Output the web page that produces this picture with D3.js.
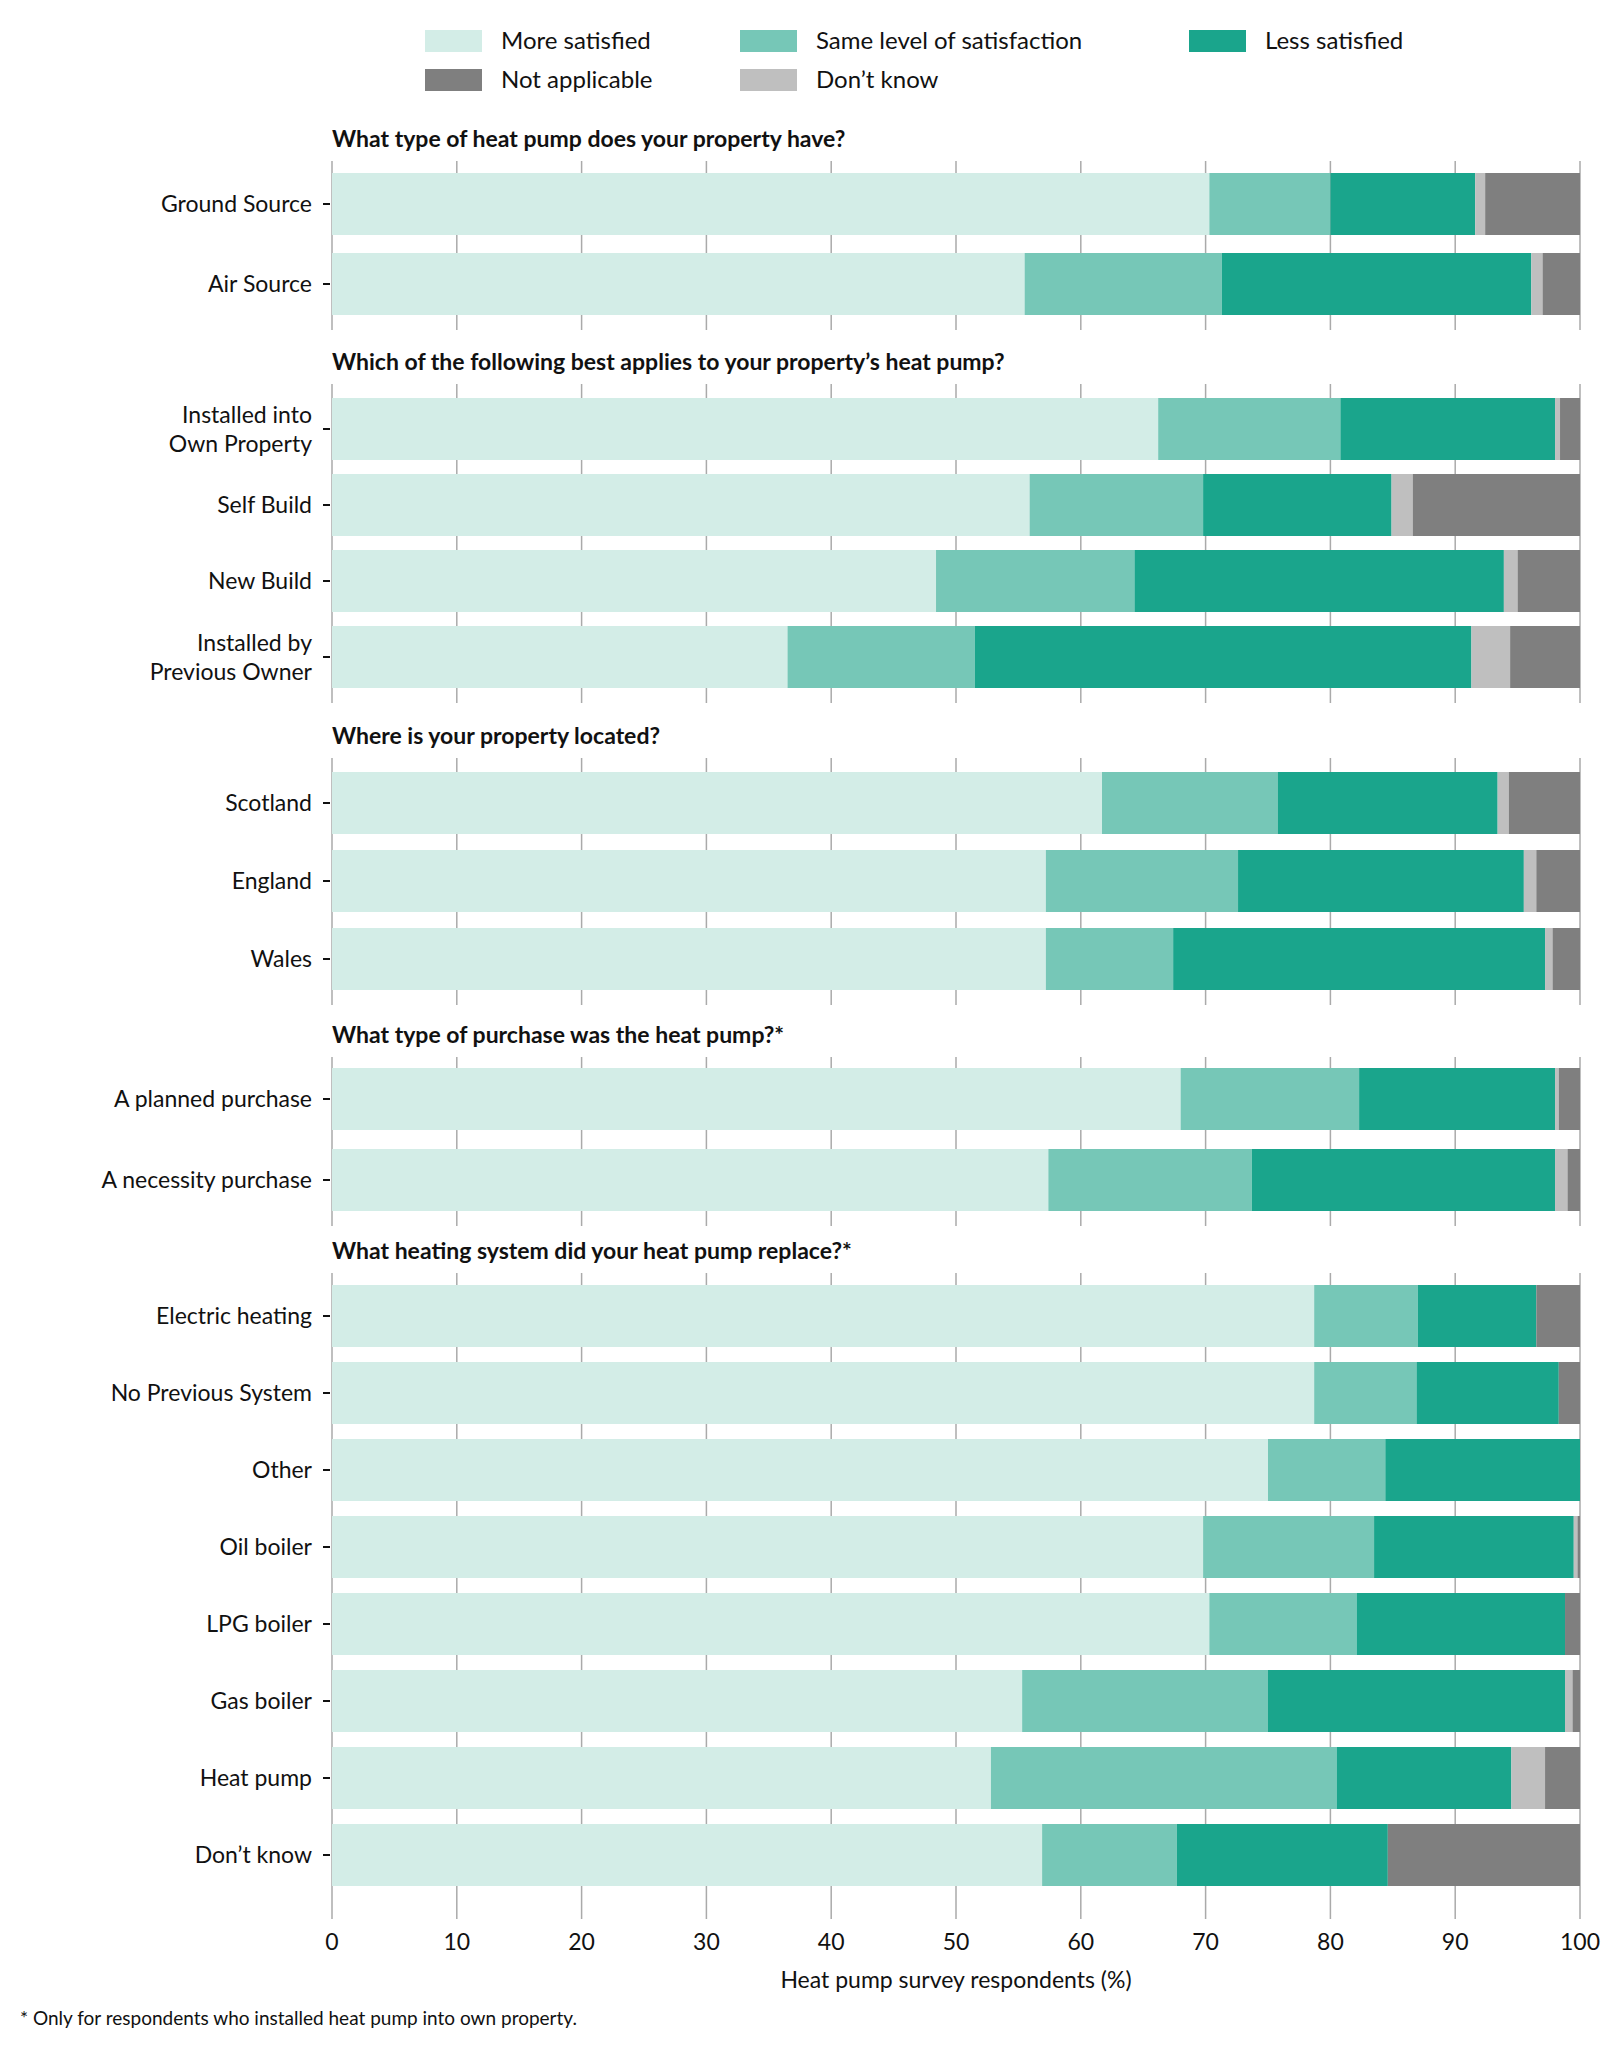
<!DOCTYPE html>
<html>
<head>
<meta charset="utf-8">
<script src="https://d3js.org/d3.v7.min.js"></script>
<style>
  body { margin: 0; background: #fff; }
  text { font-family: Lato, "Open Sans", sans-serif; fill: #111; }
</style>
</head>
<body>
<script>
// series names + colours, in stacking order
var seriesNames = ["More satisfied", "Same level of satisfaction", "Less satisfied", "Don\u2019t know", "Not applicable"];
var seriesColors = ["#d3ede7", "#76c7b7", "#1aa58c", "#bfbfbf", "#7f7f7f"];

// question titles and their categories
var titles = [
  "What type of heat pump does your property have?",
  "Which of the following best applies to your property\u2019s heat pump?",
  "Where is your property located?",
  "What type of purchase was the heat pump?*",
  "What heating system did your heat pump replace?*"
];
var categories = [
  ["Ground Source", "Air Source"],
  ["Installed into\nOwn Property", "Self Build", "New Build", "Installed by\nPrevious Owner"],
  ["Scotland", "England", "Wales"],
  ["A planned purchase", "A necessity purchase"],
  ["Electric heating", "No Previous System", "Other", "Oil boiler", "LPG boiler", "Gas boiler", "Heat pump", "Don\u2019t know"]
];

// values per series (%), same order as the flattened categories
var moreSatisfied = [70.3, 55.5, 66.2, 55.9, 48.4, 36.5, 61.7, 57.2, 57.2, 68.0, 57.4, 78.7, 78.7, 75.0, 69.8, 70.3, 55.3, 52.8, 56.9];
var sameLevel     = [9.7, 15.8, 14.6, 13.9, 15.9, 15.0, 14.1, 15.4, 10.2, 14.3, 16.3, 8.3, 8.2, 9.4, 13.7, 11.8, 19.7, 27.7, 10.8];
var lessSatisfied = [11.6, 24.8, 17.2, 15.1, 29.6, 39.8, 17.6, 22.9, 29.8, 15.7, 24.3, 9.5, 11.4, 15.6, 16.0, 16.7, 23.8, 14.0, 16.9];
var dontKnow      = [0.8, 0.9, 0.4, 1.7, 1.1, 3.1, 0.9, 1.0, 0.6, 0.3, 1.0, 0, 0, 0, 0.3, 0, 0.6, 2.7, 0];
var notApplicable = [7.6, 3.0, 1.6, 13.4, 5.0, 5.6, 5.7, 3.5, 2.2, 1.7, 1.0, 3.5, 1.7, 0, 0.2, 1.2, 0.6, 2.8, 15.4];

var xTicks = [0, 10, 20, 30, 40, 50, 60, 70, 80, 90, 100];

// layout of each question block
var titleY = [139, 362, 736, 1035, 1251];
var firstBarY = [204, 429, 803, 1099, 1316];
var rowStep = [80, 76, 78, 81, 77];
var barH = 62;

var W = 1621, H = 2048;
var svg = d3.select("body").append("svg").attr("width", W).attr("height", H);
var x = d3.scaleLinear().domain([0, 100]).range([332, 1580]);

var seriesArrays = [moreSatisfied, sameLevel, lessSatisfied, dontKnow, notApplicable];
var idx = 0;

titles.forEach(function (t, s) {
  var cats = categories[s];
  var g = svg.append("g");
  var top = titleY[s] + 22;
  var lastBottom = firstBarY[s] + (cats.length - 1) * rowStep[s] + barH / 2;
  var bottom = s === titles.length - 1 ? lastBottom + 33 : lastBottom + 15;

  g.append("text").attr("x", 332).attr("y", titleY[s]).attr("dy", "0.35em")
    .style("font-size", "23px").style("font-weight", "bold").text(t);

  g.selectAll("line.grid").data(xTicks).enter().append("line")
    .attr("x1", d => x(d)).attr("x2", d => x(d)).attr("y1", top).attr("y2", bottom)
    .attr("stroke", "#aaa").attr("stroke-width", 1.5);

  cats.forEach(function (c, i) {
    var cy = firstBarY[s] + i * rowStep[s];
    var vals = seriesArrays.map(a => a[idx]);
    var stack = [], acc = 0;
    vals.forEach(function (v, k) { stack.push({ x0: acc, x1: acc + v, k: k }); acc += v; });
    g.selectAll(null).data(stack).enter().append("rect")
      .attr("x", d => x(d.x0)).attr("width", d => x(d.x1) - x(d.x0))
      .attr("y", cy - barH / 2).attr("height", barH)
      .attr("fill", d => seriesColors[d.k]);

    g.append("line").attr("x1", 323).attr("x2", 330).attr("y1", cy).attr("y2", cy)
      .attr("stroke", "#111").attr("stroke-width", 2);
    var lines = c.split("\n");
    var lbl = g.append("text").attr("x", 312).attr("text-anchor", "end")
      .style("font-size", "23px");
    lines.forEach(function (ln, j) {
      lbl.append("tspan").attr("x", 312)
        .attr("y", cy + (j - (lines.length - 1) / 2) * 29).attr("dy", "0.35em").text(ln);
    });
    idx++;
  });
});

// x axis labels
svg.selectAll("text.xt").data(xTicks).enter().append("text")
  .attr("x", d => x(d)).attr("y", 1942).attr("dy", "0.35em").attr("text-anchor", "middle")
  .style("font-size", "23px").text(d => d);
svg.append("text").attr("x", x(50)).attr("y", 1980).attr("dy", "0.35em").attr("text-anchor", "middle")
  .style("font-size", "23px").text("Heat pump survey respondents (%)");
svg.append("text").attr("x", 20).attr("y", 2018).attr("dy", "0.35em")
  .style("font-size", "19px").text("* Only for respondents who installed heat pump into own property.");

// legend
var legendOrder = [0, 1, 2, 4, 3];
var legX = [425, 740, 1189];
legendOrder.forEach(function (k, i) {
  var lx = legX[i % 3], ly = i < 3 ? 41 : 80;
  svg.append("rect").attr("x", lx).attr("y", ly - 11).attr("width", 57).attr("height", 22)
    .attr("fill", seriesColors[k]);
  svg.append("text").attr("x", lx + 76).attr("y", ly).attr("dy", "0.35em")
    .style("font-size", "24px").text(seriesNames[k]);
});
</script>
</body>
</html>
